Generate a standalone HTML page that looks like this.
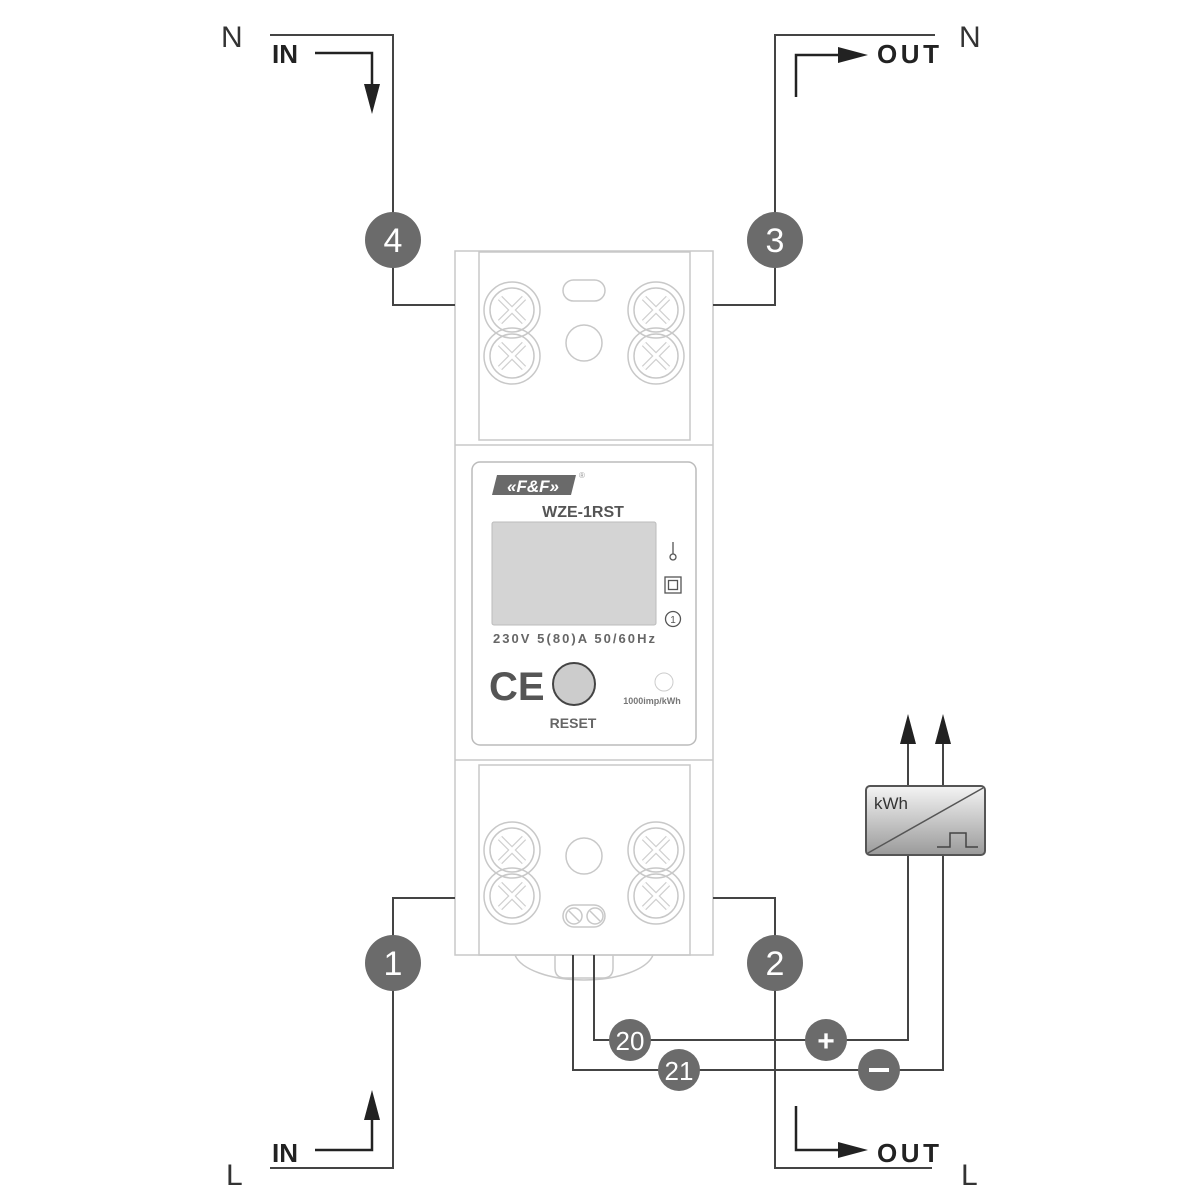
<!DOCTYPE html>
<html><head><meta charset="utf-8"><style>
html,body{margin:0;padding:0;background:#fff}
svg{display:block}
text{font-family:"Liberation Sans",sans-serif}
</style></head><body>
<svg width="1200" height="1200" viewBox="0 0 1200 1200" xmlns="http://www.w3.org/2000/svg">
<defs>
<marker id="ah" viewBox="0 0 10 10" refX="9" refY="5" markerWidth="10" markerHeight="10" markerUnits="userSpaceOnUse" orient="auto"><path d="M0,0 L10,5 L0,10 z" fill="#222"/></marker>
<linearGradient id="g" x1="0" y1="0" x2="0" y2="1"><stop offset="0" stop-color="#f4f4f4"/><stop offset="1" stop-color="#9a9a9a"/></linearGradient>
</defs>
<g fill="none" stroke="#c8c8c8" stroke-width="1.5">
<rect x="455" y="251" width="258" height="704" fill="#fff"/>
<line x1="455" y1="445" x2="713" y2="445"/>
<line x1="455" y1="760" x2="713" y2="760"/>
<rect x="479" y="252" width="211" height="188"/>
<rect x="479" y="765" width="211" height="190"/>
<path d="M515,955 A70,30 0 0 0 653,955"/>
<path d="M555,955 L555,968 Q555,978 565,978 L603,978 Q613,978 613,968 L613,955"/>
<g id="sc">
<circle cx="512" cy="310" r="28"/><circle cx="512" cy="310" r="22"/>
<circle cx="512" cy="356" r="28"/><circle cx="512" cy="356" r="22"/>
<path d="M500,298 L524,322 M524,298 L500,322 M500,344 L524,368 M524,344 L500,368" stroke-width="6" stroke="#d0d0d0"/>
<path d="M500,298 L524,322 M524,298 L500,322 M500,344 L524,368 M524,344 L500,368" stroke-width="3.5" stroke="#fff"/>
</g>
<use href="#sc" x="144"/>
<use href="#sc" y="540"/>
<use href="#sc" x="144" y="540"/>
<rect x="563" y="280" width="42" height="21" rx="10.5"/>
<circle cx="584" cy="343" r="18"/>
<circle cx="584" cy="856" r="18"/>
<rect x="563" y="905" width="42" height="22" rx="11"/>
<circle cx="574" cy="916" r="8"/><circle cx="595" cy="916" r="8"/>
<path d="M569,911 L579,921 M590,911 L600,921"/>
</g>
<rect x="472" y="462" width="224" height="283" rx="8" fill="#fff" stroke="#bbb" stroke-width="1.5"/>
<polygon points="497,475 576,475 571,495 492,495" fill="#6a6a6a"/>
<text x="533" y="492" font-size="17" font-weight="bold" font-style="italic" fill="#fff" text-anchor="middle">«F&amp;F»</text>
<text x="579" y="478" font-size="8" fill="#999">®</text>
<text x="583" y="517" font-size="16" font-weight="bold" fill="#555" text-anchor="middle">WZE-1RST</text>
<rect x="492" y="522" width="164" height="103" rx="2" fill="#d4d4d4" stroke="#bbb"/>
<g fill="none" stroke="#555" stroke-width="1.3">
<line x1="673" y1="542" x2="673" y2="554"/><circle cx="673" cy="557" r="3"/>
<rect x="665" y="577" width="16" height="16"/><rect x="668.5" y="580.5" width="9" height="9"/>
<circle cx="673" cy="619" r="7.5"/>
</g>
<text x="673" y="623" font-size="10" fill="#555" text-anchor="middle">1</text>
<text x="493" y="643" font-size="13" font-weight="bold" fill="#666" textLength="162" lengthAdjust="spacing">230V 5(80)A 50/60Hz</text>
<text x="489" y="700" font-size="40" fill="#555" font-weight="bold">CE</text>
<circle cx="574" cy="684" r="21" fill="#ccc" stroke="#444" stroke-width="2"/>
<text x="573" y="728" font-size="14" font-weight="bold" fill="#666" text-anchor="middle">RESET</text>
<circle cx="664" cy="682" r="9" fill="#fff" stroke="#ccc"/>
<text x="652" y="704" font-size="9" font-weight="bold" fill="#777" text-anchor="middle">1000imp/kWh</text>
<g fill="none" stroke="#444" stroke-width="2">
<polyline points="270,35 393,35 393,305 455,305"/>
<polyline points="713,305 775,305 775,35 935,35"/>
<polyline points="455,898 393,898 393,1168 270,1168"/>
<polyline points="713,898 775,898 775,1168 932,1168"/>
<polyline points="594,955 594,1040 908,1040 908,855"/>
<polyline points="573,955 573,1070 943,1070 943,855"/>
<line x1="908" y1="786" x2="908" y2="740"/>
<line x1="943" y1="786" x2="943" y2="740"/>
</g>
<g fill="none" stroke="#222" stroke-width="2.5">
<polyline points="315,53 372,53 372,100" marker-end="url(#ah)"/>
<polyline points="796,97 796,55 855,55" marker-end="url(#ah)"/>
<polyline points="315,1150 372,1150 372,1103" marker-end="url(#ah)"/>
<polyline points="796,1106 796,1150 855,1150" marker-end="url(#ah)"/>
</g>
<polygon points="364,84 380,84 372,114" fill="#222"/>
<polygon points="838,47 838,63 868,55" fill="#222"/>
<polygon points="364,1120 380,1120 372,1090" fill="#222"/>
<polygon points="838,1142 838,1158 868,1150" fill="#222"/>
<polygon points="900,744 916,744 908,714" fill="#222"/>
<polygon points="935,744 951,744 943,714" fill="#222"/>
<rect x="866" y="786" width="119" height="69" rx="4" fill="url(#g)" stroke="#555" stroke-width="2"/>
<line x1="868" y1="853" x2="983" y2="788" stroke="#555" stroke-width="1.5"/>
<polyline points="937,847 950,847 950,833 966,833 966,847 978,847" fill="none" stroke="#444" stroke-width="1.5"/>
<text x="874" y="809" font-size="17" fill="#333">kWh</text>
<g font-size="30" fill="#333">
<text x="221" y="47">N</text><text x="959" y="47">N</text>
<text x="226" y="1185">L</text><text x="961" y="1185">L</text>
</g>
<g font-size="26" font-weight="bold" fill="#222">
<text x="272" y="63">IN</text><text x="877" y="63" textLength="62">OUT</text>
<text x="272" y="1162">IN</text><text x="877" y="1162" textLength="62">OUT</text>
</g>
<g fill="#6b6b6b">
<circle cx="393" cy="240" r="28"/><circle cx="775" cy="240" r="28"/>
<circle cx="393" cy="963" r="28"/><circle cx="775" cy="963" r="28"/>
<circle cx="630" cy="1040" r="21"/><circle cx="826" cy="1040" r="21"/>
<circle cx="679" cy="1070" r="21"/><circle cx="879" cy="1070" r="21"/>
</g>
<g fill="#fff" text-anchor="middle">
<text x="393" y="252" font-size="34">4</text>
<text x="775" y="252" font-size="34">3</text>
<text x="393" y="975" font-size="34">1</text>
<text x="775" y="975" font-size="34">2</text>
<text x="630" y="1050" font-size="26">20</text>
<text x="679" y="1080" font-size="26">21</text>
<text x="826" y="1051" font-size="30" font-weight="bold">+</text>
</g>
<rect x="869" y="1068" width="20" height="4" fill="#fff"/>
</svg>
</body></html>
